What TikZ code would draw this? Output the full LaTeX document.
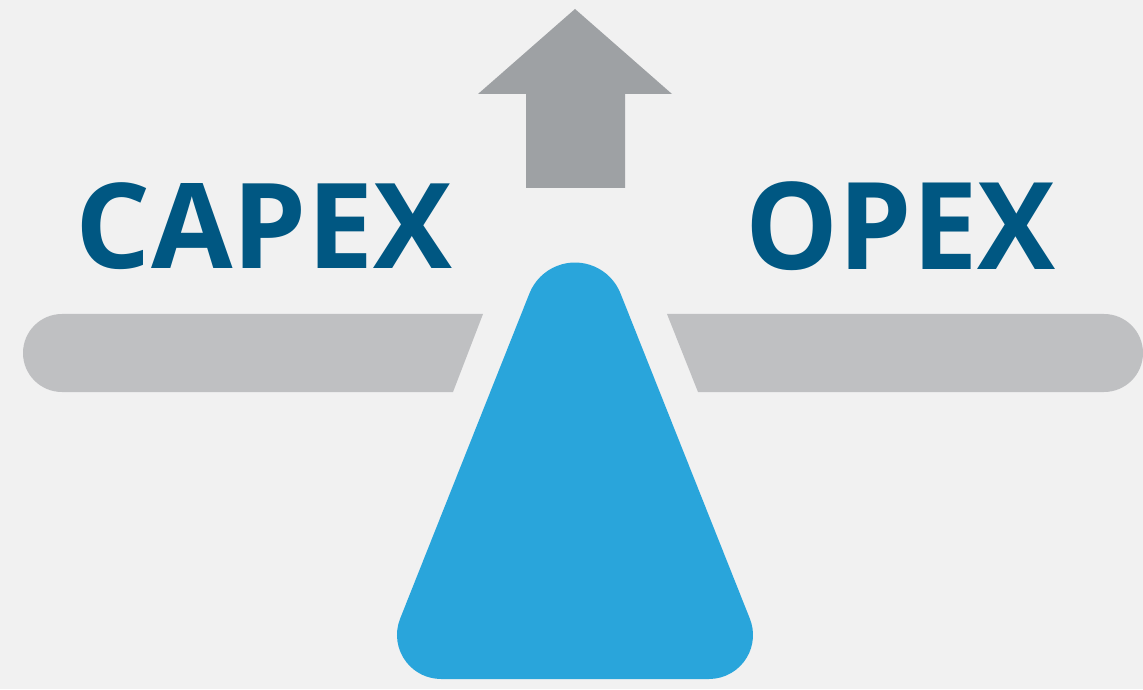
\documentclass[tikz,border=0pt]{standalone}
\usepackage{fontspec}
\usepackage{graphicx}
\newfontfamily\lblfont{Open Sans}
\definecolor{bgcol}{HTML}{F1F1F1}
\definecolor{arrowcol}{HTML}{9EA1A4}
\definecolor{beamcol}{HTML}{BFC0C2}
\definecolor{fulcrumcol}{HTML}{29A5DB}
\definecolor{textcol}{HTML}{005782}
\tikzset{
  label/.style={inner sep=0pt, outer sep=0pt, text=textcol, anchor=center},
  beam/.style={fill=beamcol},
  fulcrum/.style={fill=fulcrumcol},
  uparrow/.style={fill=arrowcol}
}
\begin{document}
\begin{tikzpicture}[x=1pt,y=1pt]
\fill[bgcol] (0,0) rectangle (1143,689);
\useasboundingbox (0,0) rectangle (1143,689);
% up arrow
\fill[uparrow] (575,680) -- (672,595) -- (625,595) -- (625,501) -- (526,501) -- (526,595) -- (478,595) -- cycle;
% beam halves
\fill[beam] (483,375) -- (62,375) arc[start angle=90, end angle=270, radius=39] -- (453,297) -- cycle;
\fill[beam] (667,375) -- (1104,375) arc[start angle=90, end angle=-90, radius=39] -- (698,297) -- cycle;
% fulcrum
\fill[fulcrum] (441,10) -- (709,10) arc[start angle=-90, end angle=21.7, radius=44]
  -- (620.5,395.6) arc[start angle=21.7, end angle=158.3, radius=49]
  -- (400.1,70.3) arc[start angle=158.3, end angle=270, radius=44] -- cycle;
% labels
\node[label] (capex) at (264,463) {\resizebox*{376pt}{87pt}{\lblfont\bfseries CAPEX}};
\node[label] (opex) at (900.5,463) {\resizebox*{310pt}{89pt}{\lblfont\bfseries OPEX}};
\end{tikzpicture}
\end{document}
